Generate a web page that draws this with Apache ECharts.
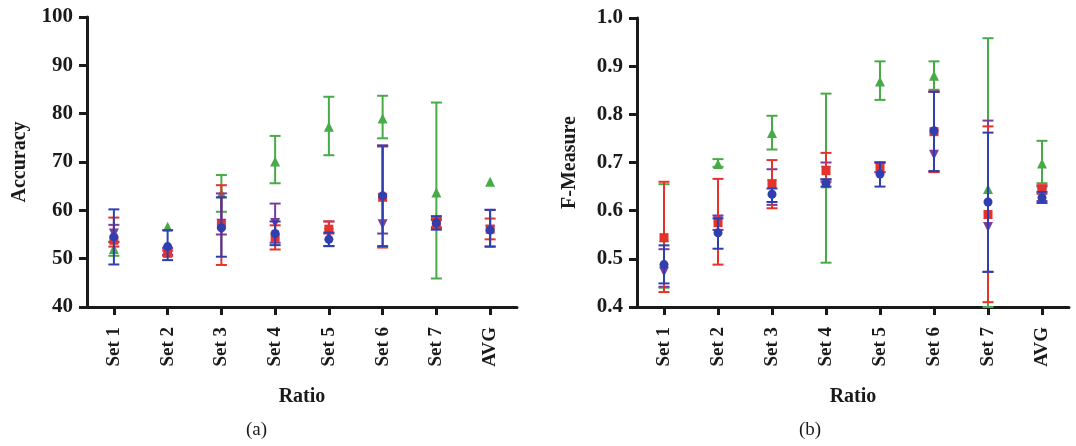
<!DOCTYPE html>
<html>
<head>
<meta charset="utf-8">
<script src="https://cdn.jsdelivr.net/npm/echarts@6/dist/echarts.min.js"></script>
<style>html,body{margin:0;padding:0;background:#fff}#c{width:1076px;height:446px}</style>
</head>
<body>
<div id="c"></div>
<script>
const categories = ['Set 1','Set 2','Set 3','Set 4','Set 5','Set 6','Set 7','AVG'];
const accTicks = [40,50,60,70,80,90,100];
const fmTicks = [0.4,0.5,0.6,0.7,0.8,0.9,1.0];

// Panel (a) Accuracy
const accRed      = [53.8, 51.1, 57.0, 54.4, 56.1, 62.7, 57.3, 56.1];
const accRedLow   = [52.5, 50.6, 48.7, 51.9, 55.2, 52.3, 56.2, 54.0];
const accRedHigh  = [58.5, 51.7, 65.2, 56.9, 57.7, 73.2, 58.4, 58.3];
const accGreen     = [52.0, 56.6, 63.5, 70.1, 77.3, 79.0, 63.7, 65.9];
const accGreenLow  = [50.6, null, 59.7, 65.6, 71.4, 74.9, 45.9, null];
const accGreenHigh = [53.4, null, 67.3, 75.4, 83.5, 83.7, 82.3, null];
const accBlue      = [54.5, 52.5, 56.4, 55.2, 54.0, 63.0, 57.4, 55.9];
const accBlueLow   = [48.8, 49.7, 50.4, 52.8, 52.6, 52.6, 56.0, 52.5];
const accBlueHigh  = [60.2, 55.9, 62.7, 57.7, 55.4, 73.4, 58.8, 60.1];
const accPurple     = [55.2, 51.5, 57.2, 57.4, 55.2, 57.1, 57.2, 56.0];
const accPurpleLow  = [53.5, 50.8, 55.0, 53.3, 52.6, 55.2, 56.5, 52.5];
const accPurpleHigh = [57.0, 52.2, 63.5, 61.4, 57.7, 73.4, 58.0, 60.1];

// Panel (b) F-Measure
const fmRed      = [0.544, 0.575, 0.655, 0.683, 0.691, 0.764, 0.592, 0.644];
const fmRedLow   = [0.431, 0.488, 0.605, 0.660, 0.680, 0.680, 0.410, 0.635];
const fmRedHigh  = [0.660, 0.666, 0.705, 0.720, 0.700, 0.847, 0.775, 0.653];
const fmGreen     = [0.545, 0.697, 0.761, 0.657, 0.868, 0.880, 0.645, 0.698];
const fmGreenLow  = [0.440, 0.691, 0.727, 0.492, 0.830, 0.851, 0.400, 0.657];
const fmGreenHigh = [0.655, 0.707, 0.797, 0.843, 0.910, 0.910, 0.958, 0.745];
const fmBlue      = [0.488, 0.554, 0.634, 0.657, 0.676, 0.766, 0.618, 0.627];
const fmBlueLow   = [0.449, 0.521, 0.618, 0.650, 0.650, 0.682, 0.473, 0.616];
const fmBlueHigh  = [0.528, 0.584, 0.646, 0.665, 0.700, 0.847, 0.762, 0.639];
const fmPurple     = [0.473, 0.578, 0.655, 0.683, 0.691, 0.716, 0.566, 0.636];
const fmPurpleLow  = [0.442, 0.560, 0.612, 0.665, 0.680, 0.682, 0.473, 0.620];
const fmPurpleHigh = [0.520, 0.590, 0.686, 0.700, 0.700, 0.847, 0.787, 0.650];

const COL = {red:'#e5332b', green:'#47ab47', blue:'#2f3fb0', purple:'#7b3c9c'};
const FONT = 'Liberation Serif';

function errSeries(idx, low, high, color, z){
  const data = [];
  low.forEach((l,i)=>{ if(l!=null && high[i]!=null) data.push([i,l,high[i]]); });
  return {
    type:'custom', xAxisIndex:idx, yAxisIndex:idx, z:z, silent:true,
    data:data,
    renderItem:function(params, api){
      const x = api.value(0);
      const lo = api.coord([x, api.value(1)]);
      const hi = api.coord([x, api.value(2)]);
      const w = 5.5;
      const st = {stroke:color, lineWidth:2};
      return {type:'group', children:[
        {type:'line', shape:{x1:lo[0],y1:lo[1],x2:hi[0],y2:hi[1]}, style:st},
        {type:'line', shape:{x1:lo[0]-w,y1:lo[1],x2:lo[0]+w,y2:lo[1]}, style:st},
        {type:'line', shape:{x1:hi[0]-w,y1:hi[1],x2:hi[0]+w,y2:hi[1]}, style:st}
      ]};
    }
  };
}
function markSeries(idx, vals, color, symbol, rot, z){
  return {type:'scatter', xAxisIndex:idx, yAxisIndex:idx, z:z, symbol:symbol, symbolRotate:rot,
    symbolSize: symbol==='triangle'?10:9, itemStyle:{color:color, opacity:1},
    data: vals.map((v,i)=>[i,v])};
}
function panel(idx, s){
  return [
    errSeries(idx, s.gl, s.gh, COL.green, 2), markSeries(idx, s.g, COL.green, 'triangle', 0, 3),
    errSeries(idx, s.pl, s.ph, COL.purple, 4), markSeries(idx, s.p, COL.purple, 'triangle', 180, 5),
    errSeries(idx, s.rl, s.rh, COL.red, 6), markSeries(idx, s.r, COL.red, 'rect', 0, 7),
    errSeries(idx, s.bl, s.bh, COL.blue, 8), markSeries(idx, s.b, COL.blue, 'circle', 0, 9)
  ];
}
const axisLine = {lineStyle:{color:'#1a1a1a', width:3}};
const tick = {show:true, inside:false, length:8, lineStyle:{color:'#1a1a1a', width:3}};
function xAxis(gi){
  return {type:'category', gridIndex:gi, data:categories, boundaryGap:true,
    axisLine:axisLine, axisTick:{...tick, alignWithLabel:true},
    axisLabel:{rotate:90, margin:20, fontFamily:FONT, fontWeight:'bold', fontSize:19, color:'#1a1a1a'},
    name:'Ratio', nameLocation:'middle', nameGap:80,
    nameTextStyle:{fontFamily:FONT, fontWeight:'bold', fontSize:20, color:'#1a1a1a'},
    splitLine:{show:false}};
}
function yAxis(gi, ticks, name, dec){
  return {type:'value', gridIndex:gi, min:ticks[0], max:ticks[ticks.length-1], interval:ticks[1]-ticks[0],
    axisLine:{show:true, ...axisLine}, axisTick:tick, splitLine:{show:false},
    axisLabel:{margin:14, fontFamily:FONT, fontWeight:'bold', fontSize:21, color:'#1a1a1a',
      formatter:v=>dec?v.toFixed(1):String(Math.round(v))},
    name:name, nameLocation:'middle', nameRotate:90, nameGap:57,
    nameTextStyle:{fontFamily:FONT, fontWeight:'bold', fontSize:20, color:'#1a1a1a'}};
}
const chart = echarts.init(document.getElementById('c'), null, {renderer:'canvas'});
chart.setOption({
  animation:false,
  backgroundColor:'#ffffff',
  grid:[
    {left:87, right:559, top:17, bottom:139},
    {left:637, right:7, top:18, bottom:139}
  ],
  xAxis:[xAxis(0), xAxis(1)],
  yAxis:[yAxis(0, accTicks, 'Accuracy', false), yAxis(1, fmTicks, 'F-Measure', true)],
  graphic:[
    {type:'text', left:246, top:421, style:{text:'(a)', font:'19px "Liberation Serif"', fill:'#1a1a1a'}},
    {type:'text', left:799, top:421, style:{text:'(b)', font:'19px "Liberation Serif"', fill:'#1a1a1a'}}
  ],
  series:[
    ...panel(0, {r:accRed, rl:accRedLow, rh:accRedHigh, g:accGreen, gl:accGreenLow, gh:accGreenHigh,
                 b:accBlue, bl:accBlueLow, bh:accBlueHigh, p:accPurple, pl:accPurpleLow, ph:accPurpleHigh}),
    ...panel(1, {r:fmRed, rl:fmRedLow, rh:fmRedHigh, g:fmGreen, gl:fmGreenLow, gh:fmGreenHigh,
                 b:fmBlue, bl:fmBlueLow, bh:fmBlueHigh, p:fmPurple, pl:fmPurpleLow, ph:fmPurpleHigh})
  ]
});
</script>
</body>
</html>
